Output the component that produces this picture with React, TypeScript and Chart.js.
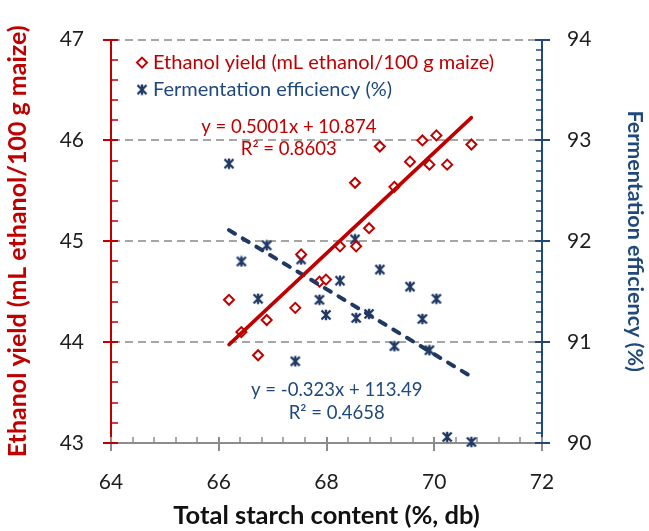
import { useEffect, useRef } from "react";
import { Chart, registerables } from "chart.js";

Chart.register(...registerables);

// Total starch content of each maize sample (%, db)
const starch = [
  66.19, 66.42, 66.73, 66.89, 67.42, 67.53, 67.87, 67.99, 68.25, 68.53,
  68.55, 68.79, 68.99, 69.26, 69.55, 69.78, 69.91, 70.04, 70.24, 70.69,
];
// Ethanol yield (mL ethanol / 100 g maize)
const ethanolYield = [
  44.42, 44.1, 43.87, 44.22, 44.34, 44.87, 44.6, 44.62, 44.95, 45.58,
  44.95, 45.13, 45.94, 45.54, 45.79, 46.0, 45.76, 46.05, 45.76, 45.96,
];
// Fermentation efficiency (%)
const fermEfficiency = [
  92.77, 91.8, 91.43, 91.96, 90.81, 91.82, 91.42, 91.27, 91.61, 92.02,
  91.24, 91.28, 91.72, 90.96, 91.55, 91.23, 90.92, 91.43, 90.06, 90.01,
];

// Linear fits: [slope, intercept]
const yieldTrend = [0.5001, 10.874];
const efficiencyTrend = [-0.323, 113.49];
const yieldTrendText = ["y = 0.5001x + 10.874", "R² = 0.8603"];
const efficiencyTrendText = ["y = -0.323x + 113.49", "R² = 0.4658"];

const seriesNames = ["Ethanol yield (mL ethanol/100 g maize)", "Fermentation efficiency (%)"];
const axisTitles = {
  x: "Total starch content (%, db)",
  y: "Ethanol yield (mL ethanol/100 g maize)",
  y1: "Fermentation efficiency (%)",
};

const RED = "#C00000";
const NAVY = "#1F3864";
const STEEL = "#1F497D";
const GRID = "#A6A6A6";
const AXIS_GRAY = "#8C8C8C";
const TEXT = "#1E1E1E";
const FONT = "Lato";

// Where the fit equations sit, in data units of their own axis
const yieldTextAt = { x: 67.3, rows: [46.13, 45.91] };
const efficiencyTextAt = { x: 68.19, rows: [90.53, 90.3] };

function makeStar(color: string) {
  const size = 12;
  const c = document.createElement("canvas");
  c.width = size;
  c.height = size;
  const g = c.getContext("2d")!;
  g.strokeStyle = color;
  g.lineWidth = 2.4;
  const m = 1.5;
  g.beginPath();
  g.moveTo(m, m);
  g.lineTo(size - m, size - m);
  g.moveTo(size - m, m);
  g.lineTo(m, size - m);
  g.moveTo(size / 2, 0.8);
  g.lineTo(size / 2, size - 0.8);
  g.stroke();
  return c;
}

function fitLine([m, b]: number[]) {
  const lo = Math.min(...starch);
  const hi = Math.max(...starch);
  return [
    { x: lo, y: m * lo + b },
    { x: hi, y: m * hi + b },
  ];
}

function minorValues(min: number, max: number, step: number) {
  const out: number[] = [];
  const n = Math.round((max - min) / step);
  for (let i = 0; i <= n; i++) out.push(min + i * step);
  return out;
}

// Crossing major ticks and inward minor ticks on all three axes
const axisTicks = {
  id: "axisTicks",
  beforeDatasetsDraw(chart: any) {
    const { ctx, chartArea: a, scales } = chart;
    const line = (x1: number, y1: number, x2: number, y2: number) => {
      ctx.beginPath();
      ctx.moveTo(x1, y1);
      ctx.lineTo(x2, y2);
      ctx.stroke();
    };
    ctx.save();
    // x axis
    const xs = scales.x;
    ctx.strokeStyle = AXIS_GRAY;
    ctx.lineWidth = 1.5;
    minorValues(xs.min, xs.max, 0.4).forEach((v) => {
      const px = Math.round(xs.getPixelForValue(v));
      line(px, a.bottom - 6, px, a.bottom);
    });
    ctx.lineWidth = 2;
    xs.ticks.forEach((t: any) => {
      const px = Math.round(xs.getPixelForValue(t.value));
      line(px, a.bottom - 6, px, a.bottom + 8);
    });
    // left axis
    const yl = scales.y;
    ctx.strokeStyle = RED;
    ctx.lineWidth = 1.5;
    minorValues(yl.min, yl.max, 0.2).forEach((v) => {
      const py = Math.round(yl.getPixelForValue(v));
      line(a.left, py, a.left + 7, py);
    });
    ctx.lineWidth = 2;
    yl.ticks.forEach((t: any) => {
      const py = Math.round(yl.getPixelForValue(t.value));
      line(a.left - 8, py, a.left + 7, py);
    });
    // right axis
    const yr = scales.y1;
    ctx.strokeStyle = STEEL;
    ctx.lineWidth = 1.5;
    minorValues(yr.min, yr.max, 0.1).forEach((v) => {
      const py = Math.round(yr.getPixelForValue(v));
      line(a.right - 6, py, a.right, py);
    });
    ctx.lineWidth = 2;
    yr.ticks.forEach((t: any) => {
      const py = Math.round(yr.getPixelForValue(t.value));
      line(a.right - 7, py, a.right + 8, py);
    });
    ctx.restore();
  },
};

// Legend box and fit equations inside the plot area
const annotations = {
  id: "annotations",
  afterDatasetsDraw(chart: any) {
    const { ctx, chartArea: a, scales } = chart;
    ctx.save();
    ctx.textBaseline = "middle";

    ctx.font = `18.5px ${FONT}`;
    ctx.textAlign = "center";
    ctx.fillStyle = RED;
    yieldTrendText.forEach((s, i) => {
      ctx.fillText(s, scales.x.getPixelForValue(yieldTextAt.x), scales.y.getPixelForValue(yieldTextAt.rows[i]));
    });
    ctx.fillStyle = STEEL;
    efficiencyTrendText.forEach((s, i) => {
      ctx.fillText(s, scales.x.getPixelForValue(efficiencyTextAt.x), scales.y1.getPixelForValue(efficiencyTextAt.rows[i]));
    });

    // legend
    const mx = a.left + 31;
    const tx = a.left + 42;
    const r1 = a.top + 23;
    const r2 = a.top + 50;
    ctx.textAlign = "left";
    ctx.font = `20px ${FONT}`;
    ctx.strokeStyle = RED;
    ctx.fillStyle = "#fff";
    ctx.lineWidth = 2;
    ctx.beginPath();
    ctx.moveTo(mx, r1 - 5);
    ctx.lineTo(mx + 5, r1);
    ctx.lineTo(mx, r1 + 5);
    ctx.lineTo(mx - 5, r1);
    ctx.closePath();
    ctx.fill();
    ctx.stroke();
    ctx.fillStyle = RED;
    ctx.fillText(seriesNames[0], tx, r1);
    const star = makeStar(NAVY);
    ctx.drawImage(star, mx - star.width / 2, r2 - star.height / 2);
    ctx.fillStyle = STEEL;
    ctx.fillText(seriesNames[1], tx, r2);
    ctx.restore();
  },
};

export default function App() {
  const ref = useRef<HTMLCanvasElement>(null);

  useEffect(() => {
    const starImg = makeStar(NAVY);
    const chart = new Chart(ref.current!, {
      type: "scatter",
      data: {
        datasets: [
          {
            label: "yield fit",
            data: fitLine(yieldTrend),
            yAxisID: "y",
            showLine: true,
            borderColor: RED,
            borderWidth: 3.5,
            borderCapStyle: "round",
            pointRadius: 0,
            order: 0,
          },
          {
            label: "efficiency fit",
            data: fitLine(efficiencyTrend),
            yAxisID: "y1",
            showLine: true,
            borderColor: NAVY,
            borderWidth: 4,
            borderDash: [7, 9],
            borderCapStyle: "round",
            pointRadius: 0,
            order: 1,
          },
          {
            label: seriesNames[0],
            data: starch.map((s, i) => ({ x: s, y: ethanolYield[i] })),
            yAxisID: "y",
            pointStyle: "rectRot",
            pointRadius: 5,
            borderColor: RED,
            backgroundColor: "#fff",
            borderWidth: 2,
            clip: false,
            order: 2,
          },
          {
            label: seriesNames[1],
            data: starch.map((s, i) => ({ x: s, y: fermEfficiency[i] })),
            yAxisID: "y1",
            pointStyle: starImg as any,
            pointRadius: 6,
            borderColor: NAVY,
            backgroundColor: NAVY,
            clip: false,
            order: 3,
          },
        ],
      },
      options: {
        responsive: false,
        animation: false,
        events: [],
        layout: { padding: { top: 20, left: 0, right: 0, bottom: 0 } },
        plugins: { legend: { display: false }, tooltip: { enabled: false } },
        scales: {
          x: {
            type: "linear",
            min: 64,
            max: 72,
            afterFit: (s: any) => {
              s.height = 88;
            },
            ticks: { stepSize: 2, padding: 27, color: TEXT, font: { family: FONT, size: 21 } },
            grid: { display: false, drawTicks: false },
            border: { display: true, color: AXIS_GRAY, width: 2 },
            title: {
              display: true,
              text: axisTitles.x,
              color: "#111",
              font: { family: FONT, size: 25.5, weight: "bold" },
              padding: { top: 0, bottom: 0 },
            },
          },
          y: {
            type: "linear",
            position: "left",
            min: 43,
            max: 47,
            afterFit: (s: any) => {
              s.width = 111;
            },
            ticks: { stepSize: 1, padding: 27, color: TEXT, font: { family: FONT, size: 21 } },
            grid: {
              drawTicks: false,
              lineWidth: 2,
              color: (c: any) => (c.tick && c.tick.value === 43 ? "rgba(0,0,0,0)" : GRID),
            },
            border: { display: true, color: RED, width: 2, dash: [8, 5] },
            title: {
              display: true,
              text: axisTitles.y,
              color: RED,
              font: { family: FONT, size: 25, weight: "bold" },
              padding: { top: 3, bottom: 0 },
            },
          },
          y1: {
            type: "linear",
            position: "right",
            min: 90,
            max: 94,
            afterFit: (s: any) => {
              s.width = 107;
            },
            ticks: { stepSize: 1, padding: 25, color: TEXT, font: { family: FONT, size: 21 } },
            grid: { drawOnChartArea: false, drawTicks: false },
            border: { display: true, color: STEEL, width: 2 },
            title: {
              display: true,
              text: axisTitles.y1,
              color: STEEL,
              font: { family: FONT, size: 21.5, weight: "bold" },
              padding: { top: 1, bottom: 0 },
            },
          },
        },
      },
      plugins: [axisTicks, annotations],
    } as any);
    return () => chart.destroy();
  }, []);

  return (
    <div style={{ position: "absolute", left: 0, top: 0, width: 649, height: 531, background: "#fff" }}>
      <canvas ref={ref} width={649} height={531} style={{ display: "block" }} />
    </div>
  );
}
